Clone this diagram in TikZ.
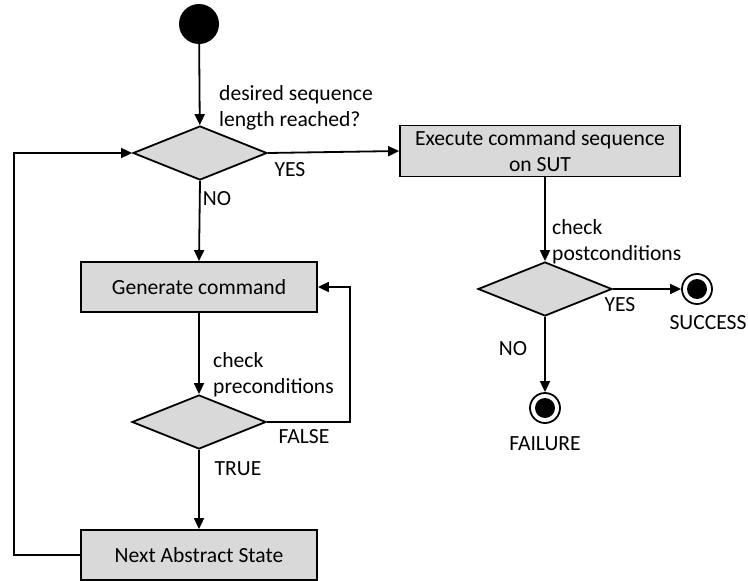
\documentclass[tikz,border=0pt]{standalone}
\usepackage{fontspec}
\setmainfont{Carlito}
\usetikzlibrary{shapes.geometric,arrows.meta}
\tikzset{
  every picture/.style={x=1pt,y=-1pt},
  lw/.style={line width=1.8pt},
  txt/.style={font=\fontsize{21.6}{26}\selectfont},
  arr/.style={lw,-{Triangle[length=11pt,width=10pt]}},
  actbox/.style={draw,lw,fill=black!15,rectangle,inner sep=0pt,align=center,txt},
  decide/.style={draw,lw,fill=black!15,diamond,inner sep=0pt,minimum width=134pt,minimum height=54pt},
  lbl/.style={txt,inner sep=0pt,align=left},
  endstate/.style={draw,lw,circle,fill=white,minimum size=30pt,inner sep=0pt},
}
\begin{document}
\begin{tikzpicture}
\useasboundingbox (0,0) rectangle (748,581);

% nodes
\node[circle,fill=black,minimum size=40pt,inner sep=0pt] (start) at (199,24) {};
\node[decide] (d1) at (200,153) {};
\node[actbox,minimum width=280pt,minimum height=51pt] (exec) at (540,151) {Execute command sequence\\on SUT};
\node[actbox,minimum width=236pt,minimum height=50pt] (gen) at (199,287) {Generate command};
\node[decide] (d2) at (199,422) {};
\node[actbox,minimum width=236pt,minimum height=50pt] (next) at (199,555) {Next Abstract State};
\node[decide] (d3) at (545,289) {};
\node[endstate] (succ) at (697,289) {};
\fill (succ.center) circle (10pt);
\node[endstate] (fail) at (545,408) {};
\fill (fail.center) circle (10pt);
\coordinate (lp) at (14,555);
\coordinate (fb) at (350,422);

% labels
\node[lbl,anchor=west] (q1) at (219,108) {desired sequence\\length reached?};
\node[lbl] (yes1) at (290,170) {YES};
\node[lbl] (no1) at (217,199) {NO};
\node[lbl,anchor=west] (pre) at (213,375) {check\\preconditions};
\node[lbl] (false) at (304,437) {FALSE};
\node[lbl] (true) at (238,469) {TRUE};
\node[lbl,anchor=west] (post) at (552,242) {check\\postconditions};
\node[lbl] (yes2) at (620,305) {YES};
\node[lbl] (no2) at (513,349) {NO};
\node[lbl] (succl) at (708,323) {SUCCESS};
\node[lbl] (faill) at (545,444) {FAILURE};

% connectors
\draw[arr] (start) -- (d1);
\draw[arr] (d1.east) -- (exec.west);
\draw[arr] (d1.south) -- (gen.north);
\draw[arr] (gen.south) -- (d2.north);
\draw[arr] (d2.east) -- (fb) |- (gen.east);
\draw[arr] (d2.south) -- (next.north);
\draw[arr] (next.west) -- (lp) |- (d1.west);
\draw[arr] (d3.north |- exec.south) -- (d3.north);
\draw[arr] (d3.east) -- (succ.west);
\draw[arr] (d3.south) -- (fail.north);
\end{tikzpicture}
\end{document}
